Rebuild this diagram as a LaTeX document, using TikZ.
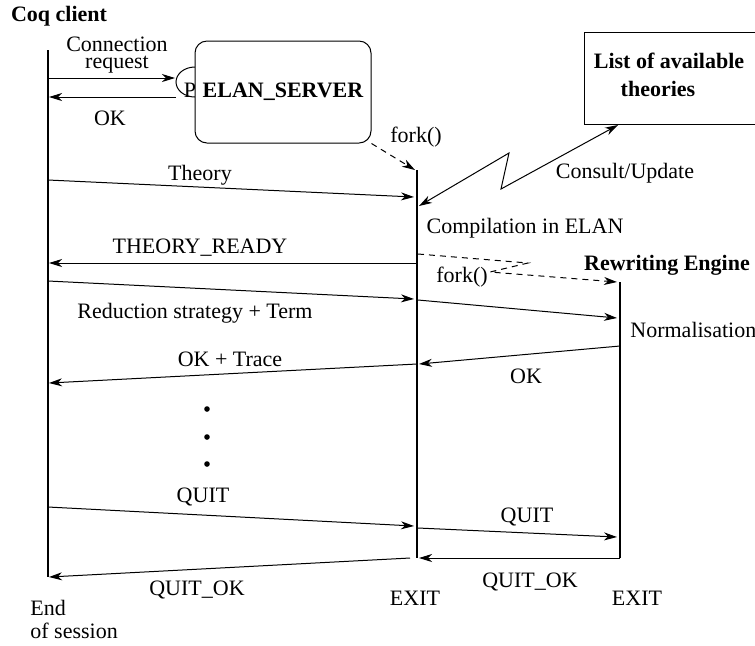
\documentclass[tikz,border=0pt]{standalone}
\usepackage{fontspec}
\setmainfont{Liberation Serif}
\usetikzlibrary{arrows.meta}

\begin{document}
\begin{tikzpicture}[x=0.5pt, y=-0.5pt,
  font=\fontsize{11}{13}\selectfont,
  life/.style={line width=1pt},
  msg/.style={line width=0.5pt, -{Stealth[length=6.5pt, width=4pt, inset=2pt]}},
  twomsg/.style={line width=0.5pt, {Stealth[length=6.5pt, width=4pt, inset=2pt]}-{Stealth[length=6.5pt, width=4pt, inset=2pt]}},
  forkmsg/.style={msg, dash pattern=on 3pt off 2.5pt},
  lbl/.style={anchor=base, inner sep=0pt},
  bold/.style={lbl, font=\fontsize{11}{13}\selectfont\bfseries}]
\useasboundingbox (0,0) rectangle (755,645);
% lifelines
\coordinate (coqtop) at (48,50);  \coordinate (coqend) at (48,577);
\coordinate (elantop) at (417,170); \coordinate (elanend) at (417,558);
\coordinate (rwtop) at (620,282); \coordinate (rwend) at (620,558);
\draw[life] (coqtop) -- (coqend);
\draw[life] (elantop) -- (elanend);
\draw[life] (rwtop) -- (rwend);
\node[bold] (coq) at (59,21) {Coq client};
\node[bold] (rw) at (667,270) {Rewriting Engine};
% server with its port
\draw[line width=0.5pt] (195,82) ellipse [x radius=9.5pt, y radius=7.5pt];
\node[lbl] (p) at (190,97) {P};
\node[draw, line width=0.5pt, fill=white, rounded corners=6pt, minimum width=88pt,
  minimum height=51pt, font=\fontsize{11}{13}\selectfont\bfseries] (srv) at (283,92) {ELAN\_SERVER};
\coordinate (port) at (175,78);
% list of theories
\draw[line width=0.5pt] (770,32) -- (584,32) -- (584,124) -- (770,124);
\node[bold] (lst1) at (669,68) {List of available};
\node[bold] (lst2) at (658,96) {theories};
\coordinate (lstfoot) at (618,125);
% end points of the messages
\coordinate (c1) at (48,78);  \coordinate (c2) at (49,97);
\coordinate (c3) at (48,180); \coordinate (c4) at (49,263);
\coordinate (c5) at (48,281); \coordinate (c6) at (49,383);
\coordinate (c7) at (48,507); \coordinate (c8) at (49,577);
\coordinate (e0) at (415,170); \coordinate (e1) at (414,197);
\coordinate (e2) at (419,206); \coordinate (e3) at (417,263);
\coordinate (e4) at (418,254); \coordinate (e5) at (414,299);
\coordinate (e6) at (418,300); \coordinate (e7) at (419,364);
\coordinate (e8) at (417,364); \coordinate (e9) at (414,526);
\coordinate (e10) at (418,528); \coordinate (e11) at (419,558);
\coordinate (e12) at (410,558);
\coordinate (r1) at (617,282); \coordinate (r2) at (617,318);
\coordinate (r3) at (620,346); \coordinate (r4) at (617,537);
% messages
\draw[msg] (c1) -- (port);
\draw[msg] (176,97) -- (c2);
\draw[forkmsg] (srv.south east) -- (e0);
\draw[msg] (c3) -- (e1);
\draw[twomsg] (e2) -- (509,153) -- (501,189) -- (lstfoot);
\draw[msg] (e3) -- (c4);
\draw[forkmsg] (e4) -- (528,263) -- (490,272) -- (r1);
\draw[msg] (c5) -- (e5);
\draw[msg] (e6) -- (r2);
\draw[msg] (r3) -- (e7);
\draw[msg] (e8) -- (c6);
\draw[msg] (c7) -- (e9);
\draw[msg] (e10) -- (r4);
\draw[msg] (rwend) -- (e11);
\draw[msg] (e12) -- (c8);
% dots
\foreach \y in {409,437,464}
  \fill (207,\y) circle (1.4pt);
% labels
\node[lbl] (conn) at (117,51) {Connection};
\node[lbl] (req) at (117,68) {request};
\node[lbl] (ok1) at (110,125) {OK};
\node[lbl] (fork1) at (416,142) {fork()};
\node[lbl] (thy) at (200,180) {Theory};
\node[lbl] (cons) at (625,178) {Consult/Update};
\node[lbl] (comp) at (525,233) {Compilation in ELAN};
\node[lbl] (ready) at (200,253) {THEORY\_READY};
\node[lbl] (fork2) at (462,282) {fork()};
\node[lbl] (red) at (195,318) {Reduction strategy + Term};
\node[lbl, anchor=base west] (norm) at (630,337) {Normalisation};
\node[lbl] (oktr) at (230,366) {OK + Trace};
\node[lbl] (ok2) at (526,383) {OK};
\node[lbl] (quit1) at (203,502) {QUIT};
\node[lbl] (quit2) at (527,522) {QUIT};
\node[lbl] (qok2) at (530,587) {QUIT\_OK};
\node[lbl] (qok1) at (197,595) {QUIT\_OK};
\node[lbl] (exit1) at (415,605) {EXIT};
\node[lbl] (exit2) at (637,605) {EXIT};
\node[lbl, anchor=base west] (end1) at (30,615) {End};
\node[lbl, anchor=base west] (end2) at (30,638) {of session};
\end{tikzpicture}
\end{document}
